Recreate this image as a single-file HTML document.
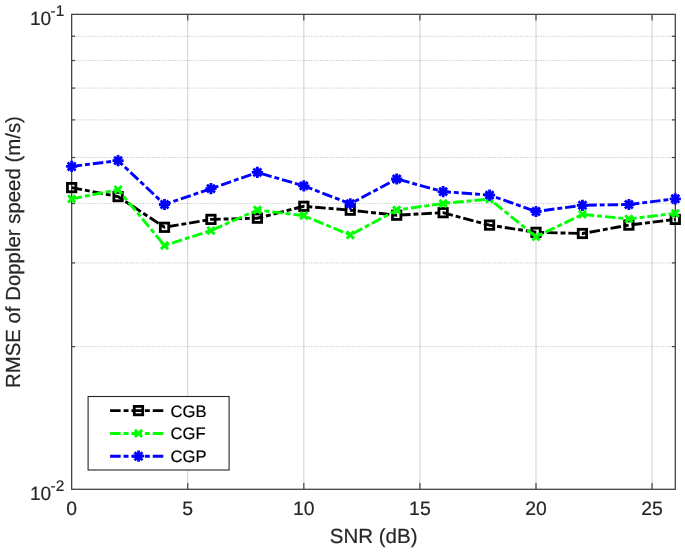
<!DOCTYPE html>
<html><head><meta charset="utf-8"><title>RMSE of Doppler speed</title>
<style>html,body{margin:0;padding:0;background:#fff;}svg{display:block;}text{font-family:"Liberation Sans",sans-serif;fill:#262626;text-rendering:geometricPrecision;stroke:#262626;stroke-width:0.18px;}</style></head><body>
<svg width="685" height="552" viewBox="0 0 685 552">
<rect width="685" height="552" fill="#fff"/>
<g stroke="#262626" stroke-opacity="0.2" stroke-width="1.1" fill="none">
<line x1="187.74" y1="14.35" x2="187.74" y2="489.3"/>
<line x1="303.82" y1="14.35" x2="303.82" y2="489.3"/>
<line x1="419.91" y1="14.35" x2="419.91" y2="489.3"/>
<line x1="536.00" y1="14.35" x2="536.00" y2="489.3"/>
<line x1="652.08" y1="14.35" x2="652.08" y2="489.3"/>
</g>
<g stroke="#262626" stroke-opacity="0.28" stroke-width="1" stroke-dasharray="1 1.3" fill="none">
<line x1="71.65" y1="346.58" x2="675.3" y2="346.58"/>
<line x1="71.65" y1="262.92" x2="675.3" y2="262.92"/>
<line x1="71.65" y1="203.56" x2="675.3" y2="203.56"/>
<line x1="71.65" y1="157.52" x2="675.3" y2="157.52"/>
<line x1="71.65" y1="119.90" x2="675.3" y2="119.90"/>
<line x1="71.65" y1="88.09" x2="675.3" y2="88.09"/>
<line x1="71.65" y1="60.54" x2="675.3" y2="60.54"/>
<line x1="71.65" y1="36.24" x2="675.3" y2="36.24"/>
</g>
<rect x="71.65" y="14.35" width="603.65" height="474.95" fill="none" stroke="#444" stroke-width="1.3"/>
<g stroke="#444" stroke-width="1.2" fill="none">
<line x1="187.74" y1="489.3" x2="187.74" y2="483.1"/>
<line x1="187.74" y1="14.35" x2="187.74" y2="20.55"/>
<line x1="303.82" y1="489.3" x2="303.82" y2="483.1"/>
<line x1="303.82" y1="14.35" x2="303.82" y2="20.55"/>
<line x1="419.91" y1="489.3" x2="419.91" y2="483.1"/>
<line x1="419.91" y1="14.35" x2="419.91" y2="20.55"/>
<line x1="536.00" y1="489.3" x2="536.00" y2="483.1"/>
<line x1="536.00" y1="14.35" x2="536.00" y2="20.55"/>
<line x1="652.08" y1="489.3" x2="652.08" y2="483.1"/>
<line x1="652.08" y1="14.35" x2="652.08" y2="20.55"/>
<line x1="71.65" y1="346.58" x2="75.15" y2="346.58"/>
<line x1="675.3" y1="346.58" x2="671.8" y2="346.58"/>
<line x1="71.65" y1="262.92" x2="75.15" y2="262.92"/>
<line x1="675.3" y1="262.92" x2="671.8" y2="262.92"/>
<line x1="71.65" y1="203.56" x2="75.15" y2="203.56"/>
<line x1="675.3" y1="203.56" x2="671.8" y2="203.56"/>
<line x1="71.65" y1="157.52" x2="75.15" y2="157.52"/>
<line x1="675.3" y1="157.52" x2="671.8" y2="157.52"/>
<line x1="71.65" y1="119.90" x2="75.15" y2="119.90"/>
<line x1="675.3" y1="119.90" x2="671.8" y2="119.90"/>
<line x1="71.65" y1="88.09" x2="75.15" y2="88.09"/>
<line x1="675.3" y1="88.09" x2="671.8" y2="88.09"/>
<line x1="71.65" y1="60.54" x2="75.15" y2="60.54"/>
<line x1="675.3" y1="60.54" x2="671.8" y2="60.54"/>
<line x1="71.65" y1="36.24" x2="75.15" y2="36.24"/>
<line x1="675.3" y1="36.24" x2="671.8" y2="36.24"/>
</g>
<clipPath id="c"><rect x="64.65" y="14.35" width="617.65" height="474.95"/></clipPath>
<g clip-path="url(#c)">
<g stroke="#000000" fill="none">
<polyline points="71.65,187.60 118.08,196.60 164.52,227.30 210.95,219.40 257.39,218.20 303.82,206.30 350.26,210.20 396.69,215.20 443.13,212.70 489.56,225.10 536.00,232.30 582.43,233.50 628.87,225.10 675.30,219.40" stroke-width="2.9" stroke-dasharray="10.55 2.95 4.9 2.92"/>
<rect x="67.45" y="183.40" width="8.4" height="8.4" stroke-width="2.8"/>
<rect x="113.88" y="192.40" width="8.4" height="8.4" stroke-width="2.8"/>
<rect x="160.32" y="223.10" width="8.4" height="8.4" stroke-width="2.8"/>
<rect x="206.75" y="215.20" width="8.4" height="8.4" stroke-width="2.8"/>
<rect x="253.19" y="214.00" width="8.4" height="8.4" stroke-width="2.8"/>
<rect x="299.62" y="202.10" width="8.4" height="8.4" stroke-width="2.8"/>
<rect x="346.06" y="206.00" width="8.4" height="8.4" stroke-width="2.8"/>
<rect x="392.49" y="211.00" width="8.4" height="8.4" stroke-width="2.8"/>
<rect x="438.93" y="208.50" width="8.4" height="8.4" stroke-width="2.8"/>
<rect x="485.36" y="220.90" width="8.4" height="8.4" stroke-width="2.8"/>
<rect x="531.80" y="228.10" width="8.4" height="8.4" stroke-width="2.8"/>
<rect x="578.23" y="229.30" width="8.4" height="8.4" stroke-width="2.8"/>
<rect x="624.67" y="220.90" width="8.4" height="8.4" stroke-width="2.8"/>
<rect x="671.10" y="215.20" width="8.4" height="8.4" stroke-width="2.8"/>
</g>
<g stroke="#00ff00" fill="none">
<polyline points="71.65,198.90 118.08,189.60 164.52,245.50 210.95,230.60 257.39,210.00 303.82,215.70 350.26,235.00 396.69,210.00 443.13,203.50 489.56,199.00 536.00,236.80 582.43,214.40 628.87,218.90 675.30,213.40" stroke-width="2.9" stroke-dasharray="10.55 2.95 4.9 2.92"/>
<path d="M68.05 195.30L75.25 202.50M68.05 202.50L75.25 195.30" stroke-width="2.9"/>
<path d="M114.48 186.00L121.68 193.20M114.48 193.20L121.68 186.00" stroke-width="2.9"/>
<path d="M160.92 241.90L168.12 249.10M160.92 249.10L168.12 241.90" stroke-width="2.9"/>
<path d="M207.35 227.00L214.55 234.20M207.35 234.20L214.55 227.00" stroke-width="2.9"/>
<path d="M253.79 206.40L260.99 213.60M253.79 213.60L260.99 206.40" stroke-width="2.9"/>
<path d="M300.22 212.10L307.42 219.30M300.22 219.30L307.42 212.10" stroke-width="2.9"/>
<path d="M346.66 231.40L353.86 238.60M346.66 238.60L353.86 231.40" stroke-width="2.9"/>
<path d="M393.09 206.40L400.29 213.60M393.09 213.60L400.29 206.40" stroke-width="2.9"/>
<path d="M439.53 199.90L446.73 207.10M439.53 207.10L446.73 199.90" stroke-width="2.9"/>
<path d="M485.96 195.40L493.16 202.60M485.96 202.60L493.16 195.40" stroke-width="2.9"/>
<path d="M532.40 233.20L539.60 240.40M532.40 240.40L539.60 233.20" stroke-width="2.9"/>
<path d="M578.83 210.80L586.03 218.00M578.83 218.00L586.03 210.80" stroke-width="2.9"/>
<path d="M625.27 215.30L632.47 222.50M625.27 222.50L632.47 215.30" stroke-width="2.9"/>
<path d="M671.70 209.80L678.90 217.00M671.70 217.00L678.90 209.80" stroke-width="2.9"/>
</g>
<g stroke="#0000ff" fill="none">
<polyline points="71.65,166.45 118.08,160.60 164.52,204.50 210.95,188.60 257.39,172.40 303.82,185.90 350.26,203.80 396.69,179.00 443.13,191.60 489.56,195.10 536.00,211.50 582.43,205.30 628.87,204.50 675.30,198.80" stroke-width="2.9" stroke-dasharray="10.55 2.95 4.9 2.92"/>
<path d="M66.05 166.45L77.25 166.45M71.65 160.85L71.65 172.05M67.69 162.49L75.61 170.41M67.69 170.41L75.61 162.49" stroke-width="2.8"/>
<path d="M112.48 160.60L123.68 160.60M118.08 155.00L118.08 166.20M114.12 156.64L122.04 164.56M114.12 164.56L122.04 156.64" stroke-width="2.8"/>
<path d="M158.92 204.50L170.12 204.50M164.52 198.90L164.52 210.10M160.56 200.54L168.48 208.46M160.56 208.46L168.48 200.54" stroke-width="2.8"/>
<path d="M205.35 188.60L216.55 188.60M210.95 183.00L210.95 194.20M206.99 184.64L214.91 192.56M206.99 192.56L214.91 184.64" stroke-width="2.8"/>
<path d="M251.79 172.40L262.99 172.40M257.39 166.80L257.39 178.00M253.43 168.44L261.35 176.36M253.43 176.36L261.35 168.44" stroke-width="2.8"/>
<path d="M298.22 185.90L309.42 185.90M303.82 180.30L303.82 191.50M299.86 181.94L307.78 189.86M299.86 189.86L307.78 181.94" stroke-width="2.8"/>
<path d="M344.66 203.80L355.86 203.80M350.26 198.20L350.26 209.40M346.30 199.84L354.22 207.76M346.30 207.76L354.22 199.84" stroke-width="2.8"/>
<path d="M391.09 179.00L402.29 179.00M396.69 173.40L396.69 184.60M392.73 175.04L400.65 182.96M392.73 182.96L400.65 175.04" stroke-width="2.8"/>
<path d="M437.53 191.60L448.73 191.60M443.13 186.00L443.13 197.20M439.17 187.64L447.09 195.56M439.17 195.56L447.09 187.64" stroke-width="2.8"/>
<path d="M483.96 195.10L495.16 195.10M489.56 189.50L489.56 200.70M485.60 191.14L493.52 199.06M485.60 199.06L493.52 191.14" stroke-width="2.8"/>
<path d="M530.40 211.50L541.60 211.50M536.00 205.90L536.00 217.10M532.04 207.54L539.96 215.46M532.04 215.46L539.96 207.54" stroke-width="2.8"/>
<path d="M576.83 205.30L588.03 205.30M582.43 199.70L582.43 210.90M578.47 201.34L586.39 209.26M578.47 209.26L586.39 201.34" stroke-width="2.8"/>
<path d="M623.27 204.50L634.47 204.50M628.87 198.90L628.87 210.10M624.91 200.54L632.83 208.46M624.91 208.46L632.83 200.54" stroke-width="2.8"/>
<path d="M669.70 198.80L680.90 198.80M675.30 193.20L675.30 204.40M671.34 194.84L679.26 202.76M671.34 202.76L679.26 194.84" stroke-width="2.8"/>
</g>
</g>
<rect x="88.1" y="396.5" width="141.00" height="73.50" fill="#fff" stroke="#262626" stroke-width="1.1"/>
<g stroke="#000000" fill="none"><line x1="110.1" y1="410.6" x2="164.0" y2="410.6" stroke-width="2.9" stroke-dasharray="10.55 2.95 4.9 2.92"/><rect x="134.30" y="406.40" width="8.4" height="8.4" stroke-width="2.8"/></g>
<text x="170.5" y="416.6" font-size="16.6" fill="#000" style="fill:#000;stroke:#000">CGB</text>
<g stroke="#00ff00" fill="none"><line x1="110.1" y1="433.45" x2="164.0" y2="433.45" stroke-width="2.9" stroke-dasharray="10.55 2.95 4.9 2.92"/><path d="M134.90 429.85L142.10 437.05M134.90 437.05L142.10 429.85" stroke-width="2.9"/></g>
<text x="170.5" y="439.4" font-size="16.6" fill="#000" style="fill:#000;stroke:#000">CGF</text>
<g stroke="#0000ff" fill="none"><line x1="110.1" y1="456.2" x2="164.0" y2="456.2" stroke-width="2.9" stroke-dasharray="10.55 2.95 4.9 2.92"/><path d="M132.90 456.20L144.10 456.20M138.50 450.60L138.50 461.80M134.54 452.24L142.46 460.16M134.54 460.16L142.46 452.24" stroke-width="2.8"/></g>
<text x="170.5" y="462.2" font-size="16.6" fill="#000" style="fill:#000;stroke:#000">CGP</text>
<text x="71.65" y="515.3" font-size="19.4" text-anchor="middle">0</text>
<text x="187.74" y="515.3" font-size="19.4" text-anchor="middle">5</text>
<text x="303.82" y="515.3" font-size="19.4" text-anchor="middle">10</text>
<text x="419.91" y="515.3" font-size="19.4" text-anchor="middle">15</text>
<text x="536.00" y="515.3" font-size="19.4" text-anchor="middle">20</text>
<text x="652.08" y="515.3" font-size="19.4" text-anchor="middle">25</text>
<text x="29.9" y="24.9" font-size="19.1">10<tspan font-size="15.4" dx="-0.6" dy="-9.2">-1</tspan></text>
<text x="29.9" y="499.9" font-size="19.1">10<tspan font-size="15.4" dx="-0.6" dy="-9.2">-2</tspan></text>
<text x="373.65" y="542.6" font-size="20.5" text-anchor="middle">SNR (dB)</text>
<text transform="translate(19.7 252.1) rotate(-90)" font-size="20.4" text-anchor="middle">RMSE of Doppler speed (m/s)</text>
</svg></body></html>
